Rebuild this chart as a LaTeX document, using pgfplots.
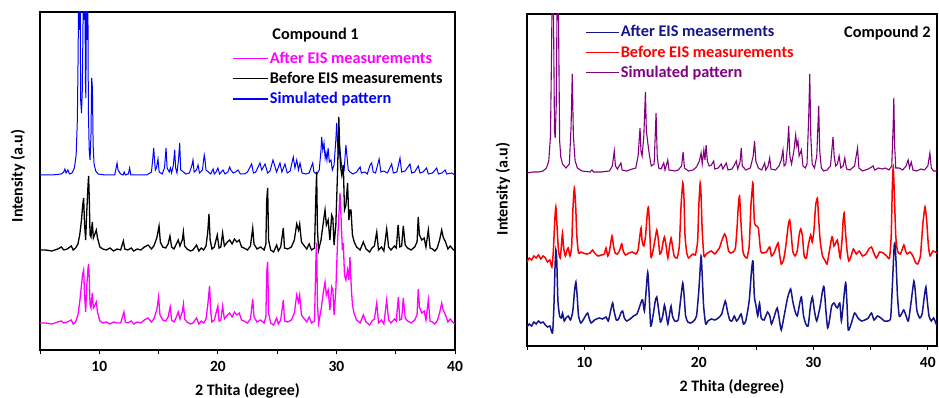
\documentclass[border=0pt]{standalone}
\usepackage{pgfplots}
\usepackage{pgfplotstable}
\pgfplotsset{compat=1.18}
\usepackage{fontspec}
\setmainfont{Carlito}
\definecolor{mag}{HTML}{FF00FF}
\definecolor{blu}{HTML}{0000FF}
\definecolor{nav}{HTML}{14148C}
\definecolor{pur}{HTML}{800080}
\definecolor{rd}{HTML}{FF0000}
\newcommand\myLabFont{\fontsize{16}{19}\selectfont\bfseries}
\newcommand\myTickFont{\fontsize{15.5}{18}\selectfont\bfseries}
\newcommand\myLegFont{\fontsize{16.3}{19}\selectfont\bfseries}

\pgfplotstableread{
x y
5.0 175
6.0 175
6.8 176
7.0 178
7.1 181
7.2 177
7.35 180
7.5 176
7.7 177
7.9 182
8.05 195
8.15 230
8.22 300
8.27 400
8.32 320
8.37 400
8.43 250
8.5 237
8.57 260
8.63 330
8.68 400
8.73 330
8.78 400
8.83 270
8.87 252
8.92 400
8.97 310
9.02 400
9.08 240
9.15 200
9.22 190
9.3 215
9.36 272
9.42 262
9.48 205
9.56 186
9.7 179
9.9 176
10.5 175
11.3 175
11.42 182
11.5 187
11.58 180
11.8 176
12.0 175
12.1 178
12.2 175
12.45 176
12.56 182
12.66 175
13.0 175
14.0 175
14.4 178
14.5 190
14.59 202
14.66 190
14.73 180
14.82 182
14.95 191
15.05 178
15.3 176
15.5 182
15.63 202
15.72 182
15.9 178
16.0 182
16.1 177
16.25 185
16.36 200
16.44 182
16.55 177
16.68 190
16.78 207
16.87 180
17.1 178
17.3 176
17.6 177
17.82 185
17.9 190
18.0 178
18.2 180
18.33 185
18.45 177
18.7 180
18.85 195
18.92 190
19.0 180
19.2 178
19.4 176
19.6 181
19.7 176
19.85 178
20.0 182
20.15 176
20.43 180
20.6 176
20.85 178
21.0 183
21.1 180
21.3 177
21.5 178
21.7 180
21.9 176
22.26 176
22.5 178
22.85 186
23.0 177
23.2 178
23.55 187
23.7 180
23.98 186
24.2 177
24.4 179
24.65 190
24.8 184
24.95 178
25.24 187
25.4 178
25.66 186
25.85 177
26.1 179
26.36 193
26.5 182
26.65 190
26.8 180
26.93 187
27.1 177
27.4 176
27.7 177
28.0 187
28.1 178
28.35 176
28.55 180
28.7 200
28.76 213
28.85 200
28.95 207
29.05 192
29.12 197
29.2 190
29.3 202
29.4 188
29.54 190
29.65 180
29.8 185
29.95 210
30.02 227
30.1 205
30.2 195
30.3 200
30.45 183
30.65 180
30.8 205
30.88 195
31.0 180
31.14 178
31.4 176
31.7 178
32.0 183
32.1 177
32.4 178
32.6 176
32.84 185
32.97 187
33.1 178
33.3 177
33.6 191
33.75 178
34.0 179
34.3 177
34.66 186
34.8 177
35.1 178
35.36 192
35.5 178
35.8 179
36.2 186
36.35 177
36.6 178
36.9 184
37.05 177
37.3 178
37.6 182
37.75 176
38.1 177
38.46 182
38.6 176
38.9 177
39.16 180
39.3 176
39.72 177
40.0 175
}\simA

\pgfplotstableread{
x y
5.0 100
5.5 100
6.0 99
6.5 101
6.8 103
7.0 100
7.3 101
7.64 104
7.8 100
8.0 102
8.2 106
8.35 115
8.5 130
8.6 145
8.68 152
8.76 125
8.85 110
8.95 140
9.05 165
9.1 174
9.16 150
9.22 115
9.3 113
9.41 128
9.5 112
9.6 115
9.75 120
9.85 112
10.05 103
10.3 101
10.6 100
10.9 102
11.2 99
11.5 101
11.8 100
12.03 109
12.15 101
12.4 100
12.7 102
12.9 99
13.2 101
13.5 100
13.8 103
14.13 105
14.4 101
14.6 104
14.85 112
15.04 124
15.15 108
15.35 103
15.6 102
15.8 106
15.96 114
16.1 103
16.3 101
16.5 106
16.66 110
16.8 104
17.0 110
17.09 118
17.2 104
17.4 101
17.7 99
17.9 100
18.2 105
18.4 99
18.6 102
18.8 100
19.0 104
19.15 118
19.25 136
19.35 110
19.5 101
19.7 103
19.95 115
20.1 102
20.25 103
20.4 117
20.55 104
20.8 108
21.0 110
21.2 106
21.4 111
21.6 108
21.8 110
22.0 103
22.2 102
22.5 100
22.75 104
22.94 122
23.05 106
23.3 101
23.6 103
23.9 100
24.05 106
24.12 150
24.2 162
24.28 110
24.45 100
24.7 98
24.96 105
25.1 99
25.3 103
25.52 122
25.62 102
25.9 101
26.2 103
26.45 110
26.65 126
26.8 120
26.9 126
27.05 108
27.3 104
27.5 101
27.7 106
27.9 100
28.15 102
28.28 160
28.33 178
28.4 120
28.5 100
28.7 110
28.9 128
29.04 140
29.15 125
29.3 130
29.45 110
29.6 135
29.7 132
29.8 105
29.95 125
30.1 180
30.2 233
30.28 200
30.35 183
30.45 175
30.58 185
30.68 140
30.8 145
30.94 167
31.05 130
31.15 140
31.23 140
31.35 115
31.5 108
31.7 103
32.0 100
32.27 108
32.5 101
32.8 98
33.0 102
33.2 104
33.4 118
33.55 100
33.8 103
34.0 99
34.24 121
34.4 103
34.6 100
34.9 104
35.05 102
35.2 125
35.35 103
35.5 104
35.64 124
35.8 105
36.0 102
36.3 100
36.6 103
36.8 108
36.9 133
37.0 115
37.2 110
37.4 112
37.55 103
37.75 120
37.9 102
38.1 101
38.3 99
38.5 102
38.7 110
38.88 120
39.0 113
39.2 108
39.4 101
39.6 104
39.8 101
40.0 99
}\befA

\pgfplotstableread{
x y
5.0 27
5.5 27
6.0 26
6.5 28
6.8 29
7.0 27
7.3 28
7.64 30
7.8 26
8.0 28
8.2 35
8.35 48
8.5 65
8.6 76
8.68 80
8.76 55
8.85 38
8.95 65
9.05 82
9.1 86
9.16 70
9.22 45
9.3 42
9.41 57
9.5 42
9.6 44
9.75 48
9.85 38
10.05 29
10.3 27
10.6 28
10.9 26
11.2 28
11.5 27
11.8 27
12.08 38
12.2 28
12.4 27
12.7 29
12.9 26
13.2 28
13.5 27
13.8 30
14.1 32
14.4 28
14.6 31
14.85 40
15.0 53
15.12 35
15.35 30
15.6 29
15.8 33
15.98 43
16.1 30
16.3 28
16.5 33
16.66 38
16.8 31
17.0 38
17.1 46
17.2 31
17.4 28
17.7 26
17.9 27
18.2 32
18.4 26
18.6 29
18.8 27
19.0 31
19.15 45
19.3 64
19.4 38
19.5 28
19.7 30
20.0 44
20.1 29
20.25 30
20.4 44
20.55 31
20.8 35
21.0 37
21.2 33
21.4 38
21.6 35
21.8 37
22.0 30
22.2 29
22.5 27
22.75 31
22.94 51
23.05 33
23.3 28
23.6 30
23.9 27
24.05 33
24.12 78
24.2 88
24.28 37
24.45 27
24.7 25
24.96 32
25.1 26
25.3 30
25.52 50
25.62 29
25.9 28
26.2 30
26.45 37
26.65 55
26.8 48
26.9 55
27.05 35
27.3 31
27.5 28
27.7 33
27.9 27
28.15 29
28.28 95
28.33 107
28.4 45
28.5 27
28.7 40
28.9 58
29.04 68
29.15 55
29.3 60
29.45 40
29.6 63
29.7 60
29.8 35
29.95 60
30.1 110
30.3 157
30.4 130
30.5 100
30.58 107
30.68 75
30.8 70
30.94 80
31.05 70
31.14 93
31.25 63
31.35 45
31.5 36
31.7 30
32.0 27
32.27 35
32.5 28
32.8 25
33.0 29
33.2 31
33.4 47
33.55 27
33.8 30
34.0 26
34.24 50
34.4 30
34.6 27
34.9 31
35.05 29
35.22 53
35.35 30
35.5 31
35.64 52
35.8 32
36.0 29
36.3 27
36.6 30
36.8 35
36.9 61
37.0 43
37.2 37
37.4 39
37.55 30
37.75 50
37.9 29
38.1 28
38.3 26
38.5 29
38.7 37
38.88 47
39.0 40
39.2 35
39.4 28
39.6 31
39.8 28
40.0 26
}\aftA

\pgfplotstableread{
x y
5.0 173
5.5 174
6.0 174
6.4 175
6.7 178
6.9 185
7.05 210
7.15 300
7.23 400
7.3 350
7.4 215
7.46 208
7.55 240
7.67 400
7.75 330
7.85 205
7.95 189
8.1 182
8.4 178
8.7 182
8.85 220
8.95 272
9.05 210
9.2 185
9.4 178
9.8 175
10.5 174
10.67 176
10.8 174
11.5 174
12.2 175
12.45 180
12.62 195
12.72 180
12.9 177
13.2 183
13.3 176
13.7 175
14.2 177
14.5 178
14.7 190
14.87 218
14.95 195
15.05 190
15.2 210
15.34 254
15.42 215
15.5 208
15.58 200
15.7 190
15.85 180
16.1 182
16.27 233
16.37 190
16.5 178
16.7 177
16.94 183
17.05 176
17.29 186
17.4 176
17.9 175
18.2 176
18.5 180
18.63 194
18.75 178
19.1 175
19.5 176
19.8 179
20.05 185
20.2 193
20.3 182
20.44 196
20.54 186
20.64 201
20.75 185
20.9 180
21.1 181
21.3 185
21.4 177
21.7 178
21.96 182
22.1 177
22.4 183
22.55 176
22.9 177
23.1 181
23.27 185
23.4 177
23.6 184
23.71 198
23.8 180
24.1 176
24.5 178
24.75 190
24.87 205
24.98 185
25.2 178
25.5 176
25.75 183
25.85 176
26.05 180
26.19 188
26.3 177
26.7 176
27.0 180
27.2 186
27.35 196
27.45 180
27.6 182
27.75 200
27.85 220
27.95 190
28.1 182
28.3 195
28.46 211
28.56 200
28.66 205
28.76 190
28.96 196
29.1 180
29.3 178
29.45 182
29.6 230
29.69 272
29.78 210
29.9 182
30.1 178
30.3 190
30.47 240
30.56 195
30.7 178
30.9 175
31.2 176
31.5 180
31.65 200
31.72 209
31.82 190
31.95 180
32.1 182
32.25 190
32.4 178
32.6 180
32.75 188
32.9 177
33.2 176
33.6 180
33.86 198
33.98 178
34.3 175
34.8 177
35.23 180
35.35 176
35.7 178
36.0 177
36.3 178
36.6 176
36.85 180
36.97 220
37.03 248
37.1 200
37.2 178
37.5 178
37.8 176
38.1 180
38.28 186
38.4 178
38.55 184
38.7 176
39.0 175
39.4 177
39.7 176
40.0 180
40.18 193
40.3 178
40.5 175
40.8 175
}\simB

\pgfplotstableread{
x y
5.0 84
5.2 88
5.4 86
5.6 90
5.8 88
6.0 91
6.2 87
6.4 90
6.6 88
6.8 84
7.0 86
7.17 79
7.3 95
7.42 125
7.52 139
7.62 120
7.75 95
7.9 88
8.0 100
8.1 113
8.2 98
8.35 90
8.5 96
8.6 98
8.75 90
8.9 100
9.0 135
9.13 158
9.25 140
9.35 110
9.5 93
9.7 94
9.9 93
10.2 92
10.5 93
10.73 96
10.9 93
11.2 90
11.5 91
11.75 92
11.9 98
12.05 90
12.2 95
12.42 110
12.55 100
12.7 93
12.9 92
13.1 96
13.27 102
13.4 95
13.6 91
13.9 93
14.2 94
14.5 92
14.7 96
14.85 110
14.96 118
15.05 105
15.2 100
15.35 110
15.5 132
15.6 139
15.7 120
15.82 89
16.0 95
16.2 108
16.33 116
16.45 108
16.6 92
16.75 95
16.9 105
17.0 109
17.15 100
17.3 88
17.45 100
17.58 108
17.7 100
17.85 90
18.1 88
18.3 100
18.45 140
18.6 163
18.7 150
18.8 110
18.95 93
19.1 88
19.3 90
19.5 92
19.7 91
19.9 105
20.0 140
20.12 163
20.2 150
20.3 115
20.45 90
20.65 92
20.9 94
21.1 95
21.4 92
21.6 95
21.8 98
22.0 105
22.25 112
22.4 108
22.6 95
22.8 93
23.0 94
23.2 98
23.35 120
23.45 140
23.56 150
23.7 120
23.85 95
24.0 90
24.2 88
24.4 100
24.55 140
24.65 155
24.73 163
24.85 125
25.0 120
25.2 118
25.4 95
25.6 93
25.9 94
26.19 99
26.35 90
26.6 94
26.92 103
27.05 92
27.2 82
27.4 86
27.6 100
27.8 120
27.93 126
28.05 115
28.2 95
28.4 90
28.6 95
28.75 110
28.9 117
29.05 110
29.2 90
29.4 88
29.55 100
29.77 111
29.9 104
30.05 115
30.2 140
30.36 148
30.45 130
30.6 105
30.8 90
31.0 86
31.2 82
31.4 95
31.6 108
31.67 109
31.8 100
31.95 103
32.1 106
32.25 95
32.35 88
32.5 105
32.6 125
32.69 133
32.8 115
32.95 95
33.1 85
33.3 90
33.5 97
33.75 92
34.0 95
34.3 90
34.6 92
34.85 97
35.08 99
35.25 94
35.5 88
35.8 94
36.1 93
36.4 90
36.65 88
36.8 110
36.9 160
36.98 179
37.08 150
37.2 110
37.35 95
37.6 92
37.91 101
38.05 95
38.2 92
38.45 94
38.7 90
38.9 84
39.1 82
39.35 90
39.55 120
39.75 139
39.9 125
40.05 100
40.2 90
40.45 95
40.8 93
}\befB

\pgfplotstableread{
x y
5.0 19
5.2 22
5.4 20
5.6 24
5.8 22
6.0 25
6.2 23
6.4 24
6.6 21
6.8 19
7.0 20
7.23 13
7.35 40
7.45 80
7.52 96
7.6 85
7.7 45
7.85 30
8.0 28
8.1 33
8.25 25
8.4 28
8.6 30
8.8 26
9.0 35
9.15 55
9.27 64
9.38 50
9.5 30
9.7 23
9.9 26
10.1 30
10.29 33
10.45 27
10.6 23
10.9 26
11.3 28
11.6 27
11.9 29
12.1 25
12.3 35
12.48 43
12.6 35
12.8 26
13.0 27
13.2 33
13.35 35
13.5 28
13.7 25
14.0 27
14.3 30
14.6 32
14.85 40
15.0 45
15.1 46
15.25 35
15.4 55
15.54 74
15.65 55
15.8 20
16.0 30
16.2 45
16.33 49
16.45 40
16.65 24
16.85 30
17.0 41
17.15 32
17.3 22
17.45 32
17.58 40
17.7 30
17.9 25
18.2 26
18.4 45
18.6 63
18.72 50
18.85 30
19.05 24
19.3 23
19.55 25
19.8 30
20.0 55
20.2 90
20.3 70
20.42 40
20.6 22
20.8 25
21.1 27
21.4 26
21.7 28
22.0 32
22.31 45
22.5 35
22.7 26
22.9 25
23.1 30
23.3 25
23.5 28
23.7 32
23.9 22
24.1 25
24.4 45
24.6 75
24.73 85
24.85 50
25.0 40
25.15 30
25.3 43
25.45 28
25.7 26
26.0 34
26.2 30
26.35 22
26.6 30
26.85 38
27.05 25
27.2 16
27.45 30
27.75 48
28.02 57
28.2 45
28.4 35
28.6 30
28.8 42
28.96 49
29.15 30
29.35 22
29.55 20
29.75 40
29.92 49
30.1 35
30.3 25
30.6 40
30.8 55
30.94 59
31.1 35
31.25 18
31.4 25
31.6 40
31.81 43
31.95 40
32.1 38
32.31 43
32.45 25
32.6 40
32.75 58
32.84 63
32.95 40
33.05 16
33.3 22
33.6 33
33.9 28
34.2 25
34.5 26
34.8 28
35.08 33
35.3 26
35.6 30
35.9 28
36.2 25
36.5 25
36.75 28
36.9 60
37.05 98
37.12 103
37.22 85
37.35 50
37.5 30
37.7 32
37.9 36
38.1 30
38.3 25
38.55 45
38.78 65
38.9 55
39.05 35
39.3 28
39.5 32
39.7 50
39.83 59
39.95 45
40.1 30
40.3 25
40.5 28
40.8 20
}\aftB

\begin{document}
\begin{tikzpicture}
\path[use as bounding box] (0,0) rectangle (939pt,398pt);
\begin{axis}[scale only axis, at={(40pt,48pt)}, anchor=south west, width=415pt, height=338pt,
  xmin=5, xmax=40, ymin=0, ymax=338,
  axis line style={line width=1.3pt},
  ytick=\empty,
  xtick={10,20,30,40}, minor xtick={5,15,25,35},
  xtick pos=bottom, tick align=outside,
  major tick length=4pt, minor tick length=4pt,
  every tick/.style={black, line width=1pt},
  xticklabel style={font=\myTickFont, yshift=-4pt},
  xticklabels={10,20,30,40},
  xlabel={2 Thita (degree)},
  ylabel={Intensity (a.u)},
  xlabel style={font=\myLabFont, at={(axis description cs:0.5,0)}, anchor=center, yshift=-41pt},
  ylabel style={font=\myLabFont, at={(axis description cs:-0.053,0.515)}, anchor=center},
  legend cell align=left,
  legend image code/.code={\draw[#1, line width=1.1pt] (0pt,0pt) -- (35pt,0pt);},
  legend style={draw=none, fill=none, at={(axis description cs:0.4627,0.887)}, anchor=north west,
    inner sep=0pt, row sep=4.5pt, font=\myLegFont, nodes={inner sep=1.5pt}},
]
\addlegendimage{mag}\addlegendentry{\textcolor{mag}{After EIS measurements}}
\addlegendimage{black}\addlegendentry{Before EIS measurements}
\addlegendimage{blu}\addlegendentry{\textcolor{blu}{Simulated pattern}}
\addplot[blu, line width=1pt, forget plot] table {\simA};
\addplot[black, line width=1.3pt, forget plot] table {\befA};
\addplot[mag, line width=1.3pt, forget plot] table {\aftA};
\node[font=\myLegFont] at (axis description cs:0.664,0.932) {Compound 1};
\end{axis}
\begin{axis}[scale only axis, at={(527pt,52pt)}, anchor=south west, width=410pt, height=332pt,
  xmin=5, xmax=40.8, ymin=0, ymax=332,
  axis line style={line width=1.3pt},
  ytick=\empty,
  xtick={10,20,30,40}, minor xtick={5,15,25,35},
  xtick pos=bottom, tick align=outside,
  major tick length=4pt, minor tick length=4pt,
  every tick/.style={black, line width=1pt},
  xticklabel style={font=\myTickFont, yshift=-4pt},
  xticklabels={10,20,30,40},
  xlabel={2 Thita (degree)},
  ylabel={Intensity (a.u)},
  xlabel style={font=\myLabFont, at={(axis description cs:0.5,0)}, anchor=center, yshift=-41pt},
  ylabel style={font=\myLabFont, at={(axis description cs:-0.0585,0.473)}, anchor=center},
  legend cell align=left,
  legend image code/.code={\draw[#1, line width=1.1pt] (0pt,0pt) -- (33pt,0pt);},
  legend style={draw=none, fill=none, at={(axis description cs:0.1415,0.97)}, anchor=north west,
    inner sep=0pt, row sep=4.5pt, font=\myLegFont, nodes={inner sep=1.5pt}},
]
\addlegendimage{nav}\addlegendentry{\textcolor{nav}{After EIS measerments}}
\addlegendimage{rd}\addlegendentry{\textcolor{rd}{Before EIS measurements}}
\addlegendimage{pur}\addlegendentry{\textcolor{pur}{Simulated pattern}}
\addplot[pur, line width=1.1pt, forget plot] table {\simB};
\addplot[rd, line width=1.5pt, smooth, tension=0.35, forget plot] table {\befB};
\addplot[nav, line width=1.5pt, smooth, tension=0.35, forget plot] table {\aftB};
\node[font=\myLegFont] at (axis description cs:0.879,0.943) {Compound 2};
\end{axis}
\end{tikzpicture}
\end{document}
